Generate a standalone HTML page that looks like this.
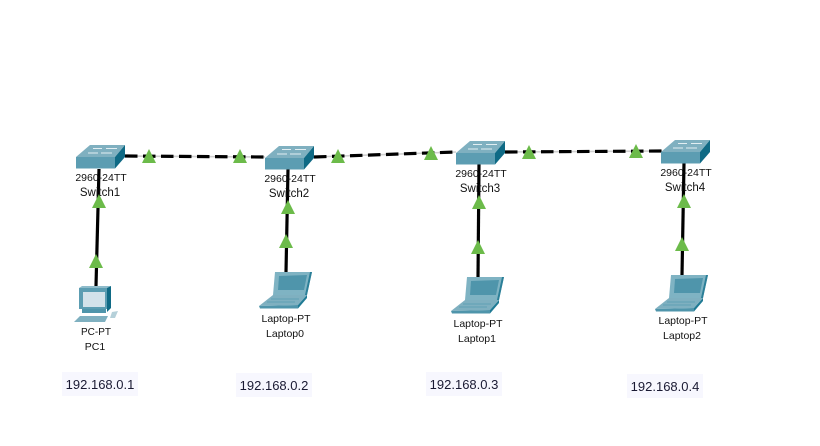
<!DOCTYPE html>
<html><head><meta charset="utf-8"><style>
html,body{margin:0;padding:0;background:#fff}
svg{display:block}
text{font-family:"Liberation Sans",sans-serif;fill:#111;font-size:10.5px;text-anchor:middle}
.s{font-size:11.5px}
.ip{font-size:13px;fill:#1a1a33}
</style></head><body>
<svg width="820" height="446" viewBox="0 0 820 446" xmlns="http://www.w3.org/2000/svg">
<defs>
<g id="sw">
<polygon points="0,12 14,0 49,0 39,12" fill="#7fb0c0"/>
<polygon points="0,12 39,12 39,23.5 0,23.5" fill="#5c9db2"/>
<polygon points="39,12 49,0 49,12 39,23.5" fill="#0f6a85"/>
<path d="M17,3.5H26M30,3.5H41M12,8H22M25,8H36" stroke="#e2eef2" stroke-width="1" fill="none"/>
</g>
<g id="lap">
<polygon points="16,0 53,0 48,23 14,23" fill="#7fb3c3"/>
<polygon points="20,4 48,3 45,18 19,18" fill="#4f95ab"/>
<polygon points="51,0 53,0 48,23 46,23" fill="#2b7f98"/>
<polygon points="0,34 14,23 48,23 39,33" fill="#7fb0c0"/>
<polygon points="0,34 39,33 39,36.5 1,36.5" fill="#4f95ab"/>
<polygon points="39,33 48,23 48,26 39,36.5" fill="#1f7a94"/>
<path d="M12,27H40M8,30H36" stroke="#5f9fb3" stroke-width="1"/>
</g>
<g id="tri"><polygon points="0,-8 7,6 -7,6" fill="#6cbb4a"/></g>
</defs>

<g stroke="#000" stroke-width="3.2" fill="none" stroke-linecap="butt">
<line x1="96" y1="286" x2="99" y2="169"/>
<line x1="286" y1="272" x2="288" y2="169"/>
<line x1="478" y1="278" x2="479" y2="164"/>
<line x1="682" y1="275" x2="684" y2="163"/>
</g>
<g stroke="#cfcfcf" stroke-width="1.6" fill="none">
<line x1="125" y1="156" x2="265" y2="157"/>
<line x1="314" y1="157" x2="456" y2="152"/>
<line x1="505" y1="152" x2="662" y2="151"/>
</g>
<g stroke="#000" stroke-width="3.2" fill="none" stroke-dasharray="12.5 5.5">
<line x1="125" y1="156" x2="265" y2="157"/>
<line x1="314" y1="157" x2="456" y2="152"/>
<line x1="505" y1="152" x2="662" y2="151"/>
</g>

<use href="#sw" x="76" y="145"/>
<use href="#sw" x="265" y="146"/>
<use href="#sw" x="456" y="141"/>
<use href="#sw" x="661" y="140"/>

<use href="#lap" x="259" y="272"/>
<use href="#lap" x="451" y="277"/>
<use href="#lap" x="655" y="275"/>

<!-- PC -->
<g>
<polygon points="79,288 82,286 111,286 107,288" fill="#8fbccb"/>
<rect x="79" y="288" width="28" height="21" fill="#5c9db2"/>
<polygon points="107,288 111,286 111,308 107,312" fill="#0f6a85"/>
<rect x="83" y="292" width="22" height="15" fill="#d3e2ea"/>
<rect x="82" y="309" width="24" height="4" fill="#4f95ab"/>
<polygon points="74,322 80,316 108,316 105,322" fill="#7fb0c0"/>
<polygon points="110,318 112,312 118,311 115,318" fill="#b5d0d9"/>
</g>

<use href="#tri" x="149" y="157"/>
<use href="#tri" x="240" y="157"/>
<use href="#tri" x="338" y="157"/>
<use href="#tri" x="431" y="154"/>
<use href="#tri" x="529" y="153"/>
<use href="#tri" x="636" y="152"/>
<use href="#tri" x="99" y="202"/>
<use href="#tri" x="96" y="262"/>
<use href="#tri" x="288" y="208"/>
<use href="#tri" x="286" y="242"/>
<use href="#tri" x="479" y="203"/>
<use href="#tri" x="478" y="248"/>
<use href="#tri" x="684" y="202"/>
<use href="#tri" x="682" y="245"/>

<text x="101" y="181">2960-24TT</text>
<text class="s" x="100" y="196">Switch1</text>
<text x="290" y="182">2960-24TT</text>
<text class="s" x="289" y="197">Switch2</text>
<text x="481" y="177">2960-24TT</text>
<text class="s" x="480" y="192">Switch3</text>
<text x="686" y="176">2960-24TT</text>
<text class="s" x="685" y="191">Switch4</text>

<text style="font-size:10px" x="96" y="335">PC-PT</text>
<text x="95" y="350">PC1</text>
<text x="286" y="322">Laptop-PT</text>
<text x="285" y="337">Laptop0</text>
<text x="478" y="327">Laptop-PT</text>
<text x="477" y="342">Laptop1</text>
<text x="683" y="324">Laptop-PT</text>
<text x="682" y="339">Laptop2</text>

<rect x="62" y="372" width="76" height="24" fill="#f7f7fe"/>
<rect x="236" y="373" width="76" height="24" fill="#f7f7fe"/>
<rect x="426" y="372" width="76" height="24" fill="#f7f7fe"/>
<rect x="627" y="374" width="76" height="24" fill="#f7f7fe"/>
<text class="ip" x="100" y="389">192.168.0.1</text>
<text class="ip" x="274" y="390">192.168.0.2</text>
<text class="ip" x="464" y="389">192.168.0.3</text>
<text class="ip" x="665" y="391">192.168.0.4</text>
</svg>
</body></html>
